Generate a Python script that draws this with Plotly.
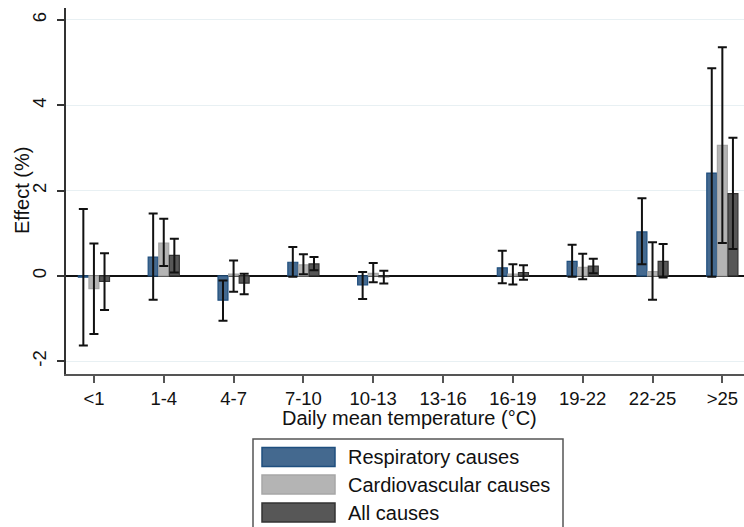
import plotly.graph_objects as go

categories = ["<1", "1-4", "4-7", "7-10", "10-13", "13-16", "16-19", "19-22", "22-25", ">25"]
series_names = ["Respiratory causes", "Cardiovascular causes", "All causes"]

resp = [-0.03, 0.44, -0.57, 0.32, -0.21, None, 0.19, 0.34, 1.03, 2.41]
resp_lo = [-1.63, -0.56, -1.05, -0.02, -0.54, None, -0.17, -0.02, 0.27, -0.02]
resp_hi = [1.57, 1.46, -0.11, 0.68, 0.09, None, 0.59, 0.73, 1.82, 4.87]

cardio = [-0.30, 0.77, 0.04, 0.26, 0.06, None, 0.04, 0.20, 0.10, 3.06]
cardio_lo = [-1.36, 0.23, -0.37, 0.04, -0.15, None, -0.20, -0.08, -0.56, 0.77]
cardio_hi = [0.76, 1.34, 0.36, 0.51, 0.30, None, 0.27, 0.52, 0.79, 5.36]

allc = [-0.13, 0.48, -0.17, 0.28, -0.02, None, 0.08, 0.23, 0.34, 1.93]
allc_lo = [-0.80, 0.08, -0.43, 0.13, -0.18, None, -0.09, 0.06, -0.04, 0.63]
allc_hi = [0.53, 0.87, 0.05, 0.44, 0.12, None, 0.25, 0.40, 0.75, 3.24]

y_ticks = [-2, 0, 2, 4, 6]
y_tick_text = ["-2", "0", "2", "4", "6"]
x_title = "Daily mean temperature (°C)"
y_title = "Effect (%)"

fills = ["#44698f", "#b4b4b4", "#575757"]
borders = ["#1f4f7f", "#a6a6a6", "#333333"]

FONT = "Liberation Sans, Arial, sans-serif"
W, H = 744, 527
ML, MR, MT, MB = 66, 0, 8, 153


def err(vals, lo, hi):
    up = [None if v is None else h - v for v, h in zip(vals, hi)]
    dn = [None if v is None else v - l for v, l in zip(vals, lo)]
    return up, dn


fig = go.Figure()
for name, vals, lo, hi, fc, bc in zip(series_names, [resp, cardio, allc],
                                      [resp_lo, cardio_lo, allc_lo],
                                      [resp_hi, cardio_hi, allc_hi], fills, borders):
    up, dn = err(vals, lo, hi)
    fig.add_trace(go.Bar(
        x=categories, y=vals, name=name, showlegend=False,
        marker=dict(color=fc, line=dict(color=bc, width=1.2)),
        error_y=dict(type="data", symmetric=False, array=up, arrayminus=dn,
                     color="#111111", thickness=2, width=4.5),
    ))

# manual legend (pixel -> paper helpers)
pw = W - ML - MR
ph = H - MT - MB


def px(x):
    return (x - ML) / pw


def py(y):
    return (H - MB - y) / ph


shapes = [dict(type="rect", xref="paper", yref="paper",
               x0=px(253), x1=px(563), y0=py(545), y1=py(439),
               line=dict(color="#555555", width=1.5), fillcolor="white", layer="above")]
annotations = []
sw_top = [447.5, 475, 503]
for i, name in enumerate(series_names):
    shapes.append(dict(type="rect", xref="paper", yref="paper",
                       x0=px(262), x1=px(335), y0=py(sw_top[i] + 19), y1=py(sw_top[i]),
                       line=dict(color=borders[i], width=1.5), fillcolor=fills[i], layer="above"))
    annotations.append(dict(xref="paper", yref="paper", x=px(346), y=py(sw_top[i] + 9.5),
                            text=name, showarrow=False, xanchor="left", yanchor="middle",
                            font=dict(family=FONT, size=20, color="#111111")))

# axis titles
annotations.append(dict(xref="paper", yref="paper", x=px(22), y=py(191), text=y_title,
                        textangle=-90, showarrow=False, xanchor="center", yanchor="middle",
                        font=dict(family=FONT, size=20, color="#111111")))
annotations.append(dict(xref="paper", yref="paper", x=px(409), y=py(418), text=x_title,
                        showarrow=False, xanchor="center", yanchor="middle",
                        font=dict(family=FONT, size=20, color="#111111")))

fig.update_layout(
    width=W, height=H,
    margin=dict(l=ML, r=MR, t=MT, b=MB),
    paper_bgcolor="white", plot_bgcolor="white",
    barmode="group", bargap=0.545, bargroupgap=0.06,
    font=dict(family=FONT, size=18.5, color="#111111"),
    shapes=shapes, annotations=annotations,
    xaxis=dict(
        type="category", range=[-0.4, 9.31],
        showline=True, linecolor="#555555", linewidth=1.5,
        ticks="outside", ticklen=7, tickcolor="#555555", tickwidth=1.5,
        showgrid=False, ticklabelstandoff=0,
    ),
    yaxis=dict(
        range=[-2.30, 6.28], tickvals=y_ticks, ticktext=y_tick_text, tickangle=-90,
        showline=True, linecolor="#333333", linewidth=1.5,
        ticks="outside", ticklen=7, tickcolor="#333333", tickwidth=1.5,
        showgrid=True, gridcolor="#e8f0f3", gridwidth=1.2,
        zeroline=True, zerolinecolor="#111111", zerolinewidth=1.5,
        ticklabelstandoff=4,
    ),
)

fig.write_html("out.html")
